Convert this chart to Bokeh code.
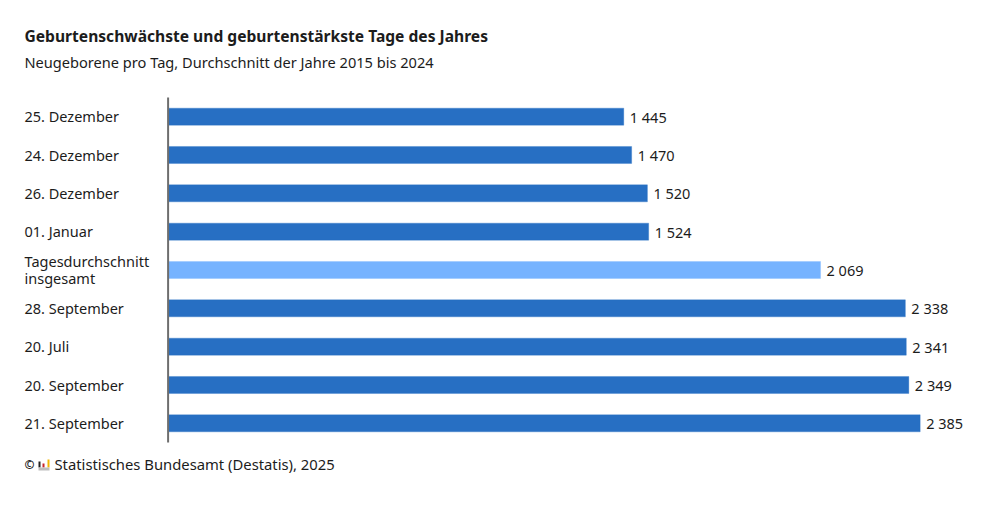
from bokeh.plotting import figure
from bokeh.models import ColumnDataSource, LabelSet, Label, Range1d, BoxAnnotation
from bokeh.core.properties import value
from bokeh.embed import file_html
from bokeh.resources import INLINE

categories = ["25. Dezember", "24. Dezember", "26. Dezember", "01. Januar",
              "Tagesdurchschnitt\ninsgesamt", "28. September", "20. Juli",
              "20. September", "21. September"]
values = [1445, 1470, 1520, 1524, 2069, 2338, 2341, 2349, 2385]
colors = ["#276FC3", "#276FC3", "#276FC3", "#276FC3", "#76B3FF",
          "#276FC3", "#276FC3", "#276FC3", "#276FC3"]
value_labels = [f"{v:,}".replace(",", "\u00a0") for v in values]
title = "Geburtenschwächste und geburtenstärkste Tage des Jahres"
subtitle = "Neugeborene pro Tag, Durchschnitt der Jahre 2015 bis 2024"
source_text = "Statistisches Bundesamt (Destatis), 2025"

FONT = "Noto Sans"
TEXT = "#1c1c1c"
W, H = 980, 506
LEFT, TOP, FH = 167.6, 97, 345
K = 812 / 2575            # px per unit
S = FH / len(categories)  # px per row

pos = list(range(len(categories)))
src = ColumnDataSource(dict(y=pos, cat=categories, val=values, col=colors, lab=value_labels,
                            zero=[0] * len(values)))

p = figure(width=W, height=H, output_backend="svg", toolbar_location=None,
           x_range=Range1d(-LEFT / K, (W - LEFT) / K),
           y_range=Range1d(len(pos) - 0.5 + (H - TOP - FH) / S, -0.5 - TOP / S),
           x_axis_location=None, y_axis_location=None,
           min_border=0, outline_line_color=None,
           background_fill_color=None, border_fill_color="white")
p.grid.visible = False

p.hbar(y="y", right="val", left=0, height=0.445, fill_color="col",
       line_color="col", line_alpha=0.3, line_width=1, source=src)
p.segment(x0=[0], x1=[0], y0=[-0.5], y1=[len(pos) - 0.5], line_color="#6e6e6e", line_width=2)

p.add_layout(LabelSet(x="zero", y="y", text="cat", source=src,
                      x_offset=-143.6, y_offset=0.5, text_align="left", text_baseline="middle",
                      text_line_height=0.87,
                      text_font=value(FONT), text_font_size="14.5px", text_color=TEXT))
p.add_layout(LabelSet(x="val", y="y", text="lab", source=src,
                      x_offset=6, text_align="left", text_baseline="middle",
                      text_font=value(FONT), text_font_size="14.5px", text_color=TEXT))

def lab(txt, x, y, size, style="normal"):
    p.add_layout(Label(x=x, y=H - y, x_units="screen", y_units="screen", text=txt,
                       text_font=FONT, text_font_size=size, text_font_style=style,
                       text_color=TEXT, text_baseline="middle", text_align="left"))

lab(title, 24, 35, "15.6px", "bold")
lab(subtitle, 24, 61, "14.6px")
lab("©", 24, 464, "12px", "bold")
lab(source_text, 54, 463, "14.8px")

for l, r, t, b, c in [(38, 40, 461, 467, "#222222"), (42, 44, 463, 467, "#c8242b"),
                      (47, 49, 459, 467, "#f2b705"), (38, 49, 467, 470, "#bdbdbd")]:
    p.add_layout(BoxAnnotation(left=l, right=r, top=H - t, bottom=H - b,
                               left_units="screen", right_units="screen",
                               top_units="screen", bottom_units="screen",
                               fill_color=c, fill_alpha=1, line_color=None))

open("out.html", "w").write(file_html(p, INLINE))
